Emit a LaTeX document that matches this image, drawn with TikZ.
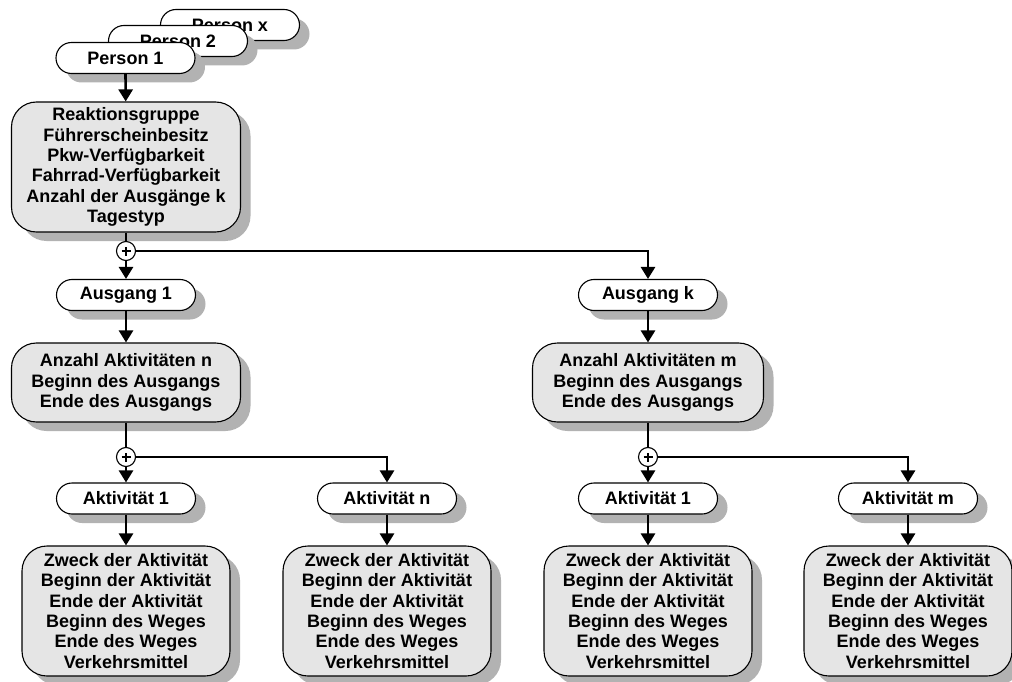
\documentclass[tikz,border=0pt]{standalone}
\usepackage{fontspec}
\setmainfont{Liberation Sans}
\usetikzlibrary{shadows,arrows.meta}

\tikzset{
  castshadow/.style={drop shadow={shadow xshift=10pt, shadow yshift=-9pt, fill=black!30, opacity=1}},
  pill/.style={draw, line width=1.1pt, fill=white, rounded corners=15.5pt,
    minimum width=139pt, minimum height=31pt, inner sep=0pt, castshadow,
    font=\bfseries\fontsize{18}{20.3}\selectfont},
  infobox/.style={draw, line width=1.1pt, fill=black!10, rounded corners=25pt,
    minimum width=229pt, inner sep=0pt, align=center, castshadow,
    font=\bfseries\fontsize{18}{20.3}\selectfont},
  actbox/.style={infobox, minimum width=208pt, minimum height=130pt},
  % junction circle with a heavy plus sign drawn inside
  plusjoin/.style={draw, circle, line width=1.1pt, fill=white, minimum size=19pt, inner sep=0pt,
    path picture={
      \draw[line width=2.2pt]
        ([xshift=-4.5pt]path picture bounding box.center) -- ([xshift=4.5pt]path picture bounding box.center)
        ([yshift=-4.5pt]path picture bounding box.center) -- ([yshift=4.5pt]path picture bounding box.center);
    }},
  link/.style={line width=2.7pt},
  flow/.style={link, -{Triangle[length=12pt,width=14pt]}}
}

\begin{document}
\begin{tikzpicture}[x=1pt,y=-1pt]
\useasboundingbox (0,0) rectangle (1012,682);

% stacked persons
\node[pill] (px) at (230,25) {Person x};
\node[pill] (p2) at (178,41) {Person 2};
\node[pill] (p1) at (125.5,58) {Person 1};

% person attributes
\node[infobox, minimum height=130pt] (b0) at (126,167)
  {Reaktionsgruppe\\Führerscheinbesitz\\Pkw-Verfügbarkeit\\Fahrrad-Verfügbarkeit\\Anzahl der Ausgänge k\\Tagestyp};
\node[plusjoin] (c0) at (126,251) {};

% trips
\node[pill] (a1) at (126,295) {Ausgang 1};
\node[pill] (ak) at (648,295) {Ausgang k};
\node[infobox, minimum height=79pt] (m1) at (126,382.5)
  {Anzahl Aktivitäten n\\Beginn des Ausgangs\\Ende des Ausgangs};
\node[infobox, minimum height=79pt, minimum width=231pt] (m2) at (648,382.5)
  {Anzahl Aktivitäten m\\Beginn des Ausgangs\\Ende des Ausgangs};
\node[plusjoin] (c1) at (126,457) {};
\node[plusjoin] (c2) at (648,457) {};

% activities
\node[pill] (t1) at (126,498.5) {Aktivität 1};
\node[pill] (t2) at (387,498.5) {Aktivität n};
\node[pill] (t3) at (648,498.5) {Aktivität 1};
\node[pill] (t4) at (908,498.5) {Aktivität m};

\foreach \n/\x in {d1/126, d2/387, d3/648, d4/908}
  \node[actbox] (\n) at (\x,611)
    {Zweck der Aktivität\\Beginn der Aktivität\\Ende der Aktivität\\Beginn des Weges\\Ende des Weges\\Verkehrsmittel};

% connectors
\draw[flow] (p1) -- (b0);
\draw[link] (b0) -- (c0);
\draw[flow] (c0) -- (a1);
\draw[flow] (c0) -| (ak);
\draw[flow] (a1) -- (m1);
\draw[flow] (ak) -- (m2);
\draw[link] (m1) -- (c1);
\draw[link] (m2) -- (c2);
\draw[flow] (c1) -- (t1);
\draw[flow] (c1) -| (t2);
\draw[flow] (c2) -- (t3);
\draw[flow] (c2) -| (t4);
\draw[flow] (t1) -- (d1);
\draw[flow] (t2) -- (d2);
\draw[flow] (t3) -- (d3);
\draw[flow] (t4) -- (d4);
\end{tikzpicture}
\end{document}
